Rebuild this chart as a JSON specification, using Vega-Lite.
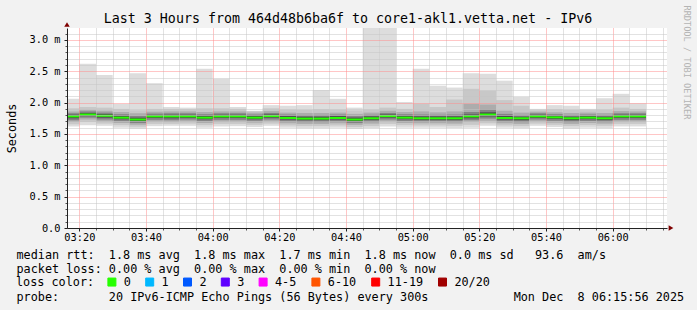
{
  "$schema": "https://vega.github.io/schema/vega-lite/v6.json",
  "width": 600,
  "height": 200,
  "autosize": {"type": "none"},
  "padding": {"left": 67, "top": 28, "right": 30, "bottom": 82},
  "background": "#f2f2f2",
  "title": {"text": "Last 3 Hours from 464d48b6ba6f to core1-akl1.vetta.net - IPv6", "font": "DejaVu Sans Mono", "fontSize": 13.3, "fontWeight": "normal", "color": "#000000", "anchor": "middle", "baseline": "alphabetic", "offset": 4, "dx": -19, "dy": 35},
  "data": {
    "values": [
      {"t":195,"e":200,"mn":1.62,"l1":1.655,"l2":1.69,"l3":1.72,"l4":1.75,"md":1.78,"h4":1.805,"h3":1.83,"h2":1.86,"h1":1.91,"mx":2.06,"loss":"0"},
      {"t":200,"e":205,"mn":1.64,"l1":1.69,"l2":1.73,"l3":1.76,"l4":1.785,"md":1.81,"h4":1.835,"h3":1.86,"h2":1.885,"h1":1.93,"mx":2.62,"loss":"0"},
      {"t":205,"e":210,"mn":1.63,"l1":1.665,"l2":1.70,"l3":1.73,"l4":1.76,"md":1.79,"h4":1.815,"h3":1.84,"h2":1.87,"h1":1.92,"mx":2.44,"loss":"0"},
      {"t":210,"e":215,"mn":1.60,"l1":1.64,"l2":1.675,"l3":1.705,"l4":1.735,"md":1.76,"h4":1.79,"h3":1.815,"h2":1.85,"h1":1.90,"mx":1.98,"loss":"0"},
      {"t":215,"e":220,"mn":1.585,"l1":1.615,"l2":1.645,"l3":1.675,"l4":1.705,"md":1.73,"h4":1.76,"h3":1.79,"h2":1.83,"h1":1.88,"mx":2.47,"loss":"0"},
      {"t":220,"e":225,"mn":1.625,"l1":1.66,"l2":1.695,"l3":1.725,"l4":1.755,"md":1.78,"h4":1.80,"h3":1.825,"h2":1.855,"h1":1.90,"mx":2.31,"loss":"0"},
      {"t":225,"e":230,"mn":1.63,"l1":1.66,"l2":1.69,"l3":1.72,"l4":1.75,"md":1.78,"h4":1.805,"h3":1.83,"h2":1.86,"h1":1.90,"mx":1.93,"loss":"0"},
      {"t":230,"e":235,"mn":1.63,"l1":1.665,"l2":1.70,"l3":1.73,"l4":1.755,"md":1.78,"h4":1.805,"h3":1.83,"h2":1.86,"h1":1.895,"mx":1.92,"loss":"0"},
      {"t":235,"e":240,"mn":1.60,"l1":1.64,"l2":1.675,"l3":1.705,"l4":1.735,"md":1.76,"h4":1.79,"h3":1.815,"h2":1.85,"h1":1.91,"mx":2.54,"loss":"0"},
      {"t":240,"e":245,"mn":1.62,"l1":1.66,"l2":1.695,"l3":1.725,"l4":1.755,"md":1.78,"h4":1.805,"h3":1.83,"h2":1.86,"h1":1.91,"mx":2.38,"loss":"0"},
      {"t":245,"e":250,"mn":1.625,"l1":1.66,"l2":1.695,"l3":1.725,"l4":1.755,"md":1.78,"h4":1.805,"h3":1.83,"h2":1.86,"h1":1.90,"mx":1.93,"loss":"0"},
      {"t":250,"e":255,"mn":1.61,"l1":1.645,"l2":1.68,"l3":1.71,"l4":1.735,"md":1.76,"h4":1.79,"h3":1.81,"h2":1.84,"h1":1.865,"mx":1.87,"loss":"0"},
      {"t":255,"e":260,"mn":1.63,"l1":1.665,"l2":1.70,"l3":1.73,"l4":1.76,"md":1.785,"h4":1.81,"h3":1.835,"h2":1.865,"h1":1.91,"mx":1.96,"loss":"0"},
      {"t":260,"e":265,"mn":1.60,"l1":1.635,"l2":1.67,"l3":1.70,"l4":1.73,"md":1.755,"h4":1.785,"h3":1.81,"h2":1.84,"h1":1.89,"mx":1.95,"loss":"0"},
      {"t":265,"e":270,"mn":1.59,"l1":1.625,"l2":1.66,"l3":1.69,"l4":1.72,"md":1.745,"h4":1.775,"h3":1.80,"h2":1.835,"h1":1.885,"mx":1.96,"loss":"0"},
      {"t":270,"e":275,"mn":1.59,"l1":1.625,"l2":1.66,"l3":1.69,"l4":1.72,"md":1.745,"h4":1.775,"h3":1.80,"h2":1.835,"h1":1.895,"mx":2.20,"loss":"0"},
      {"t":275,"e":280,"mn":1.60,"l1":1.635,"l2":1.67,"l3":1.70,"l4":1.73,"md":1.755,"h4":1.785,"h3":1.81,"h2":1.84,"h1":1.89,"mx":2.06,"loss":"0"},
      {"t":280,"e":285,"mn":1.58,"l1":1.61,"l2":1.645,"l3":1.675,"l4":1.705,"md":1.73,"h4":1.76,"h3":1.785,"h2":1.82,"h1":1.875,"mx":1.92,"loss":"0"},
      {"t":285,"e":290,"mn":1.59,"l1":1.625,"l2":1.665,"l3":1.695,"l4":1.725,"md":1.75,"h4":1.78,"h3":1.805,"h2":1.84,"h1":1.89,"mx":3.3,"loss":"0"},
      {"t":290,"e":295,"mn":1.62,"l1":1.66,"l2":1.70,"l3":1.73,"l4":1.76,"md":1.785,"h4":1.81,"h3":1.835,"h2":1.87,"h1":1.92,"mx":3.3,"loss":"0"},
      {"t":295,"e":300,"mn":1.60,"l1":1.64,"l2":1.675,"l3":1.705,"l4":1.735,"md":1.76,"h4":1.79,"h3":1.815,"h2":1.85,"h1":1.90,"mx":2.01,"loss":"0"},
      {"t":300,"e":305,"mn":1.60,"l1":1.635,"l2":1.67,"l3":1.70,"l4":1.725,"md":1.75,"h4":1.78,"h3":1.81,"h2":1.86,"h1":1.98,"mx":2.54,"loss":"0"},
      {"t":305,"e":310,"mn":1.60,"l1":1.635,"l2":1.67,"l3":1.70,"l4":1.725,"md":1.75,"h4":1.78,"h3":1.805,"h2":1.845,"h1":1.93,"mx":2.27,"loss":"0"},
      {"t":310,"e":315,"mn":1.595,"l1":1.63,"l2":1.665,"l3":1.695,"l4":1.725,"md":1.75,"h4":1.78,"h3":1.81,"h2":1.86,"h1":2.05,"mx":2.24,"loss":"0"},
      {"t":315,"e":320,"mn":1.60,"l1":1.645,"l2":1.69,"l3":1.72,"l4":1.75,"md":1.78,"h4":1.81,"h3":1.85,"h2":1.98,"h1":2.22,"mx":2.47,"loss":"0"},
      {"t":320,"e":325,"mn":1.63,"l1":1.67,"l2":1.71,"l3":1.745,"l4":1.78,"md":1.81,"h4":1.845,"h3":1.89,"h2":1.97,"h1":2.19,"mx":2.46,"loss":"0"},
      {"t":325,"e":330,"mn":1.60,"l1":1.635,"l2":1.67,"l3":1.70,"l4":1.73,"md":1.755,"h4":1.79,"h3":1.82,"h2":1.87,"h1":2.04,"mx":2.35,"loss":"0"},
      {"t":330,"e":335,"mn":1.59,"l1":1.625,"l2":1.66,"l3":1.69,"l4":1.72,"md":1.75,"h4":1.775,"h3":1.80,"h2":1.84,"h1":1.95,"mx":2.09,"loss":"0"},
      {"t":335,"e":340,"mn":1.63,"l1":1.665,"l2":1.70,"l3":1.73,"l4":1.755,"md":1.78,"h4":1.805,"h3":1.83,"h2":1.855,"h1":1.88,"mx":1.90,"loss":"0"},
      {"t":340,"e":345,"mn":1.61,"l1":1.645,"l2":1.68,"l3":1.71,"l4":1.74,"md":1.765,"h4":1.79,"h3":1.815,"h2":1.845,"h1":1.895,"mx":1.96,"loss":"0"},
      {"t":345,"e":350,"mn":1.585,"l1":1.625,"l2":1.66,"l3":1.69,"l4":1.72,"md":1.75,"h4":1.775,"h3":1.80,"h2":1.835,"h1":1.885,"mx":1.95,"loss":"0"},
      {"t":350,"e":355,"mn":1.60,"l1":1.64,"l2":1.675,"l3":1.705,"l4":1.735,"md":1.76,"h4":1.785,"h3":1.81,"h2":1.84,"h1":1.88,"mx":1.90,"loss":"0"},
      {"t":355,"e":360,"mn":1.59,"l1":1.63,"l2":1.665,"l3":1.695,"l4":1.725,"md":1.75,"h4":1.775,"h3":1.80,"h2":1.835,"h1":1.89,"mx":2.07,"loss":"0"},
      {"t":360,"e":365,"mn":1.62,"l1":1.66,"l2":1.695,"l3":1.725,"l4":1.755,"md":1.78,"h4":1.805,"h3":1.83,"h2":1.865,"h1":1.92,"mx":2.14,"loss":"0"},
      {"t":365,"e":370,"mn":1.62,"l1":1.66,"l2":1.695,"l3":1.725,"l4":1.755,"md":1.78,"h4":1.805,"h3":1.83,"h2":1.86,"h1":1.90,"mx":1.99,"loss":"0"}
    ]
  },
  "layer": [
    {
      "mark": {"type": "rect", "clip": true, "color": "#dddddd"},
      "encoding": {
        "x": {"field": "t", "type": "quantitative",
          "scale": {"domain": [196.3, 376.3], "nice": false, "zero": false},
          "axis": {"orient": "bottom", "values": [195,205,210,215,225,230,235,245,250,255,265,270,275,285,290,295,305,310,315,325,330,335,345,350,355,365,370,375], "labels": false, "domain": false, "ticks": true, "tickSize": 2, "tickColor": "#555555", "grid": true, "gridColor": "#c4c4c4", "gridDash": [1, 1], "gridOpacity": 1, "zindex": 1,
            "title": "probe:\u00a0\u00a0\u00a0\u00a0\u00a0\u00a0\u00a020 IPv6-ICMP Echo Pings (56 Bytes) every 300s\u00a0\u00a0\u00a0\u00a0\u00a0\u00a0\u00a0\u00a0\u00a0\u00a0\u00a0\u00a0Mon Dec\u00a0\u00a08 06:15:56 2025",
            "titleFont": "DejaVu Sans Mono", "titleFontSize": 11.8, "titleFontWeight": "normal", "titleColor": "#000000", "titleAnchor": "start", "titleAlign": "left", "titleBaseline": "alphabetic", "titleX": -51, "titleY": 72.3, "titleLimit": 2000}},
        "x2": {"field": "e"},
        "y": {"field": "mn", "type": "quantitative",
          "scale": {"domain": [0, 3.19], "nice": false},
          "axis": {"orient": "left", "values": [0.1,0.2,0.3,0.4,0.6,0.7,0.8,0.9,1.1,1.2,1.3,1.4,1.6,1.7,1.8,1.9,2.1,2.2,2.3,2.4,2.6,2.7,2.8,2.9,3.1], "labels": false, "domain": false, "ticks": true, "tickSize": 2, "tickColor": "#555555", "grid": true, "gridColor": "#c4c4c4", "gridDash": [1, 1], "gridOpacity": 1, "title": null, "zindex": 1}},
        "y2": {"field": "mx"}
      }
    },
    {
      "mark": {"type": "rect", "clip": true, "color": "#c8c8c8"},
      "encoding": {
        "x": {"field": "t", "type": "quantitative",
          "axis": {"orient": "bottom", "values": [200, 220, 240, 260, 280, 300, 320, 340, 360], "labelExpr": "(floor(datum.value / 60) < 10 ? '0' : '') + floor(datum.value / 60) + ':' + (datum.value % 60 < 10 ? '0' : '') + (datum.value % 60)", "labelFont": "DejaVu Sans Mono", "labelFontSize": 10.3, "labelColor": "#000000", "labelBaseline": "alphabetic", "labelPadding": 9.5, "labelFlush": false, "labelOverlap": false, "tickSize": 3, "tickColor": "#222222", "domain": true, "domainColor": "#222222", "grid": true, "gridColor": "#ff8c8c", "gridDash": [1, 1], "gridOpacity": 1, "title": null, "zindex": 1}},
        "x2": {"field": "e"},
        "y": {"field": "l1", "type": "quantitative",
          "axis": {"orient": "left", "values": [0, 0.5, 1, 1.5, 2, 2.5, 3], "labelExpr": "datum.value == 0 ? '0.0' : format(datum.value, '.1f') + ' m'", "labelFont": "DejaVu Sans Mono", "labelFontSize": 10.3, "labelColor": "#000000", "labelPadding": 4, "labelFlush": false, "tickSize": 3, "tickColor": "#222222", "domain": true, "domainColor": "#222222", "grid": true, "gridColor": "#ff8c8c", "gridDash": [1, 1], "gridOpacity": 1, "title": "Seconds", "titleFont": "DejaVu Sans Mono", "titleFontSize": 11.8, "titleFontWeight": "normal", "titleColor": "#000000", "titleAngle": -90, "titleX": -51.5, "titleY": 100, "titleAlign": "center", "titleBaseline": "alphabetic", "zindex": 1}},
        "y2": {"field": "h1"}
      }
    },
    {
      "mark": {"type": "rect", "clip": true, "color": "#acacac"},
      "encoding": {
        "x": {"field": "t", "type": "quantitative",
          "axis": {"orient": "bottom", "labels": false, "ticks": false, "domain": false, "grid": false,
            "title": ["median rtt:\u00a0\u00a01.8 ms avg\u00a0\u00a01.8 ms max\u00a0\u00a01.7 ms min\u00a0\u00a01.8 ms now\u00a0\u00a00.0 ms sd\u00a0\u00a0\u00a093.6\u00a0\u00a0am/s", "packet loss: 0.00 % avg\u00a0\u00a00.00 % max\u00a0\u00a00.00 % min\u00a0\u00a00.00 % now"],
            "titleFont": "DejaVu Sans Mono", "titleFontSize": 11.8, "titleFontWeight": "normal", "titleColor": "#000000", "titleAnchor": "start", "titleAlign": "left", "titleBaseline": "alphabetic", "titleX": -51, "titleY": 30.3, "titleLineHeight": 14, "titleLimit": 2000}},
        "x2": {"field": "e"},
        "y": {"field": "l2", "type": "quantitative",
          "axis": {"orient": "right", "labels": false, "ticks": false, "domain": false, "grid": false, "title": "RRDTOOL / TOBI OETIKER", "titleFont": "DejaVu Sans Mono", "titleFontSize": 8.6, "titleFontWeight": "normal", "titleColor": "#b4b4b4", "titleAngle": 90, "titleX": 16, "titleY": -23, "titleAlign": "left", "titleBaseline": "alphabetic"}},
        "y2": {"field": "h2"}
      }
    },
    {
      "mark": {"type": "rect", "clip": true, "color": "#828282"},
      "encoding": {
        "x": {"field": "t", "type": "quantitative", "axis": null},
        "x2": {"field": "e"},
        "y": {"field": "l3", "type": "quantitative", "axis": null},
        "y2": {"field": "h3"}
      }
    },
    {
      "mark": {"type": "rect", "clip": true, "color": "#4a4a4a"},
      "encoding": {
        "x": {"field": "t", "type": "quantitative", "axis": null},
        "x2": {"field": "e"},
        "y": {"field": "l4", "type": "quantitative", "axis": null},
        "y2": {"field": "h4"}
      }
    },
    {
      "mark": {"type": "rule", "clip": true, "strokeWidth": 2},
      "encoding": {
        "x": {"field": "t", "type": "quantitative", "axis": null},
        "x2": {"field": "e"},
        "y": {"field": "md", "type": "quantitative", "axis": null},
        "color": {"field": "loss", "type": "nominal",
          "scale": {"domain": ["0", "1", "2", "3", "4-5", "6-10", "11-19", "20/20"], "range": ["#26ff00", "#00b8ff", "#0059ff", "#5e00ff", "#ff00ff", "#ff5500", "#ff0000", "#a10000"]},
          "legend": {"orient": "none", "legendX": -51, "legendY": 248, "direction": "horizontal", "padding": 0,
            "title": "loss color:", "titleOrient": "left", "titleFont": "DejaVu Sans Mono", "titleFontSize": 11.8, "titleFontWeight": "normal", "titleColor": "#000000", "titlePadding": 11, "titleBaseline": "middle",
            "labelFont": "DejaVu Sans Mono", "labelFontSize": 11.8, "labelColor": "#000000", "labelOffset": 6, "labelLimit": 200, "columnPadding": 11.8,
            "symbolType": "square", "symbolSize": 64, "symbolStrokeWidth": 1, "symbolStrokeColor": "#000000",
            "encode": {"symbols": {"update": {"fill": {"scale": "color", "field": "value"}, "stroke": {"value": "#000000"}, "strokeWidth": {"value": 1}, "opacity": {"value": 1}}}}}}
      }
    },
    {
      "data": {"values": [{"p": 0}]},
      "mark": {"type": "point", "shape": "triangle-up", "filled": true, "color": "#7f0000", "opacity": 1, "size": 30, "yOffset": -3.5},
      "encoding": {
        "x": {"datum": 196.3, "type": "quantitative", "axis": null},
        "y": {"datum": 3.19, "type": "quantitative", "axis": null}
      }
    },
    {
      "data": {"values": [{"p": 0}]},
      "mark": {"type": "point", "shape": "triangle-right", "filled": true, "color": "#7f0000", "opacity": 1, "size": 30, "xOffset": 4},
      "encoding": {
        "x": {"datum": 376.3, "type": "quantitative", "axis": null},
        "y": {"datum": 0, "type": "quantitative", "axis": null}
      }
    }
  ],
  "resolve": {"axis": {"x": "independent", "y": "independent"}},
  "config": {
    "font": "DejaVu Sans Mono",
    "view": {"fill": "#ffffff", "stroke": null}
  }
}
